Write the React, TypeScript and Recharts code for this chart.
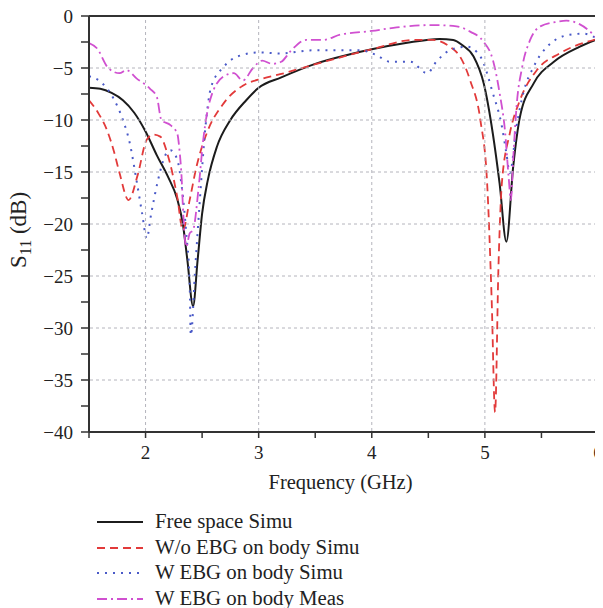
import React from 'react';
import { LineChart, Line, XAxis, YAxis, Legend } from 'recharts';

// S11 curves (frequency in GHz, S11 in dB)
const freeSpaceSimu = [
  { f: 1.5, s: -6.9 }, { f: 1.6, s: -7.0 }, { f: 1.7, s: -7.4 }, { f: 1.8, s: -8.1 },
  { f: 1.9, s: -9.3 }, { f: 2.0, s: -11.1 }, { f: 2.1, s: -13.4 }, { f: 2.2, s: -15.5 },
  { f: 2.28, s: -17.6 }, { f: 2.33, s: -20.0 }, { f: 2.37, s: -23.5 }, { f: 2.42, s: -27.9 },
  { f: 2.46, s: -23.5 }, { f: 2.5, s: -19.0 }, { f: 2.55, s: -15.8 }, { f: 2.63, s: -12.6 },
  { f: 2.75, s: -10.0 }, { f: 2.89, s: -8.1 }, { f: 3.0, s: -6.9 }, { f: 3.2, s: -5.9 },
  { f: 3.5, s: -4.6 }, { f: 3.8, s: -3.7 }, { f: 4.0, s: -3.2 }, { f: 4.3, s: -2.6 },
  { f: 4.6, s: -2.2 }, { f: 4.72, s: -2.3 }, { f: 4.8, s: -2.8 }, { f: 4.9, s: -3.9 },
  { f: 4.99, s: -6.5 }, { f: 5.07, s: -11.3 }, { f: 5.13, s: -16.1 }, { f: 5.19, s: -21.7 },
  { f: 5.25, s: -14.5 }, { f: 5.31, s: -9.7 }, { f: 5.43, s: -6.5 }, { f: 5.61, s: -4.4 },
  { f: 5.84, s: -2.95 }, { f: 6.0, s: -2.2 },
];

const woEbgSimu = [
  { f: 1.5, s: -8.1 }, { f: 1.58, s: -9.3 }, { f: 1.66, s: -11.0 }, { f: 1.72, s: -13.0 },
  { f: 1.77, s: -15.1 }, { f: 1.85, s: -17.7 }, { f: 1.93, s: -15.3 }, { f: 2.01, s: -11.9 },
  { f: 2.07, s: -11.4 }, { f: 2.13, s: -11.6 }, { f: 2.2, s: -13.5 }, { f: 2.28, s: -17.4 },
  { f: 2.33, s: -20.6 }, { f: 2.39, s: -17.7 }, { f: 2.45, s: -14.5 }, { f: 2.54, s: -11.3 },
  { f: 2.69, s: -8.4 }, { f: 2.86, s: -6.7 }, { f: 3.04, s: -6.0 }, { f: 3.19, s: -5.6 },
  { f: 3.48, s: -4.7 }, { f: 4.0, s: -3.2 }, { f: 4.37, s: -2.3 }, { f: 4.54, s: -2.3 },
  { f: 4.69, s: -2.95 }, { f: 4.78, s: -3.9 }, { f: 4.87, s: -6.2 }, { f: 4.96, s: -10.0 },
  { f: 5.02, s: -16.1 }, { f: 5.06, s: -27.3 }, { f: 5.09, s: -38.1 }, { f: 5.12, s: -24.1 },
  { f: 5.15, s: -16.1 }, { f: 5.22, s: -11.3 }, { f: 5.31, s: -8.1 }, { f: 5.46, s: -5.2 },
  { f: 5.66, s: -3.6 }, { f: 6.0, s: -2.2 },
];

const wEbgSimu = [
  { f: 1.5, s: -5.8 }, { f: 1.6, s: -6.3 }, { f: 1.715, s: -7.9 }, { f: 1.8, s: -10.0 },
  { f: 1.86, s: -12.2 }, { f: 1.92, s: -15.8 }, { f: 1.97, s: -19.0 }, { f: 2.01, s: -21.4 },
  { f: 2.05, s: -19.0 }, { f: 2.11, s: -15.8 }, { f: 2.17, s: -13.5 }, { f: 2.22, s: -12.9 },
  { f: 2.28, s: -13.8 }, { f: 2.32, s: -16.4 }, { f: 2.36, s: -20.9 }, { f: 2.39, s: -25.7 },
  { f: 2.4, s: -30.7 }, { f: 2.44, s: -24.1 }, { f: 2.48, s: -17.7 }, { f: 2.53, s: -10.6 },
  { f: 2.58, s: -6.8 }, { f: 2.69, s: -4.9 }, { f: 2.81, s: -3.9 }, { f: 3.01, s: -3.5 },
  { f: 3.19, s: -3.6 }, { f: 3.48, s: -3.3 }, { f: 3.9, s: -3.3 }, { f: 4.04, s: -3.75 },
  { f: 4.16, s: -4.4 }, { f: 4.34, s: -4.4 }, { f: 4.49, s: -5.5 }, { f: 4.57, s: -4.4 },
  { f: 4.69, s: -3.3 }, { f: 4.84, s: -2.95 }, { f: 4.96, s: -3.9 }, { f: 5.07, s: -7.4 },
  { f: 5.15, s: -10.6 }, { f: 5.19, s: -13.2 }, { f: 5.22, s: -15.1 }, { f: 5.28, s: -10.6 },
  { f: 5.34, s: -7.4 }, { f: 5.43, s: -4.9 }, { f: 5.55, s: -2.95 }, { f: 5.75, s: -1.8 },
  { f: 5.87, s: -1.7 }, { f: 6.0, s: -2.2 },
];

const wEbgMeas = [
  { f: 1.5, s: -2.6 }, { f: 1.57, s: -3.1 }, { f: 1.67, s: -5.0 }, { f: 1.77, s: -5.5 },
  { f: 1.83, s: -5.2 }, { f: 1.92, s: -6.0 }, { f: 2.04, s: -7.0 }, { f: 2.1, s: -7.8 },
  { f: 2.14, s: -10.0 }, { f: 2.22, s: -10.5 }, { f: 2.28, s: -11.3 }, { f: 2.3, s: -12.9 },
  { f: 2.32, s: -15.8 }, { f: 2.33, s: -18.3 }, { f: 2.36, s: -22.2 }, { f: 2.39, s: -20.9 },
  { f: 2.42, s: -20.6 }, { f: 2.47, s: -16.4 }, { f: 2.51, s: -11.9 }, { f: 2.57, s: -8.1 },
  { f: 2.69, s: -5.8 }, { f: 2.78, s: -5.5 }, { f: 2.86, s: -6.2 }, { f: 2.95, s: -5.0 },
  { f: 3.03, s: -4.3 }, { f: 3.12, s: -4.6 }, { f: 3.2, s: -4.4 }, { f: 3.28, s: -3.4 },
  { f: 3.42, s: -2.3 }, { f: 3.57, s: -2.3 }, { f: 3.72, s: -1.8 }, { f: 4.0, s: -1.44 },
  { f: 4.22, s: -1.1 }, { f: 4.54, s: -0.87 }, { f: 4.75, s: -1.0 }, { f: 4.87, s: -1.5 },
  { f: 4.99, s: -2.5 }, { f: 5.07, s: -4.2 }, { f: 5.13, s: -7.4 }, { f: 5.18, s: -11.3 },
  { f: 5.21, s: -15.5 }, { f: 5.23, s: -17.7 }, { f: 5.25, s: -13.8 }, { f: 5.28, s: -8.7 },
  { f: 5.33, s: -4.9 }, { f: 5.4, s: -2.3 }, { f: 5.49, s: -1.0 }, { f: 5.64, s: -0.55 },
  { f: 5.72, s: -0.45 }, { f: 5.84, s: -0.8 }, { f: 6.0, s: -2.2 },
];

const xTicks = [1.5, 2, 2.5, 3, 3.5, 4, 4.5, 5, 5.5, 6];
const yTicks = [-40, -37.5, -35, -32.5, -30, -27.5, -25, -22.5, -20, -17.5, -15, -12.5, -10, -7.5, -5, -2.5, 0];

const series = [
  { name: 'Free space Simu', data: freeSpaceSimu, color: '#1c1c1c', dash: undefined, width: 2 },
  { name: 'W/o EBG on body Simu', data: woEbgSimu, color: '#e23a3a', dash: '8 5', width: 1.8 },
  { name: 'W EBG on body Simu', data: wEbgSimu, color: '#4a5ac8', dash: '2 6', width: 2 },
  { name: 'W EBG on body Meas', data: wEbgMeas, color: '#d050d0', dash: '10 4 2 4', width: 1.8 },
];

const FONT = '"Liberation Serif", "DejaVu Serif", serif';
const AXIS = '#333';
const GRID = '#b4b4bc';

// chart layout
const W = 595;
const H = 600;
const MARGIN = { top: 8, right: 5, left: 11, bottom: 0 };
const Y_AXIS_W = 70;
const X_AXIS_H = 60;
const LEGEND_H = 116;
const PLOT_TOP = MARGIN.top;
const PLOT_BOTTOM = H - MARGIN.bottom - X_AXIS_H - LEGEND_H;
const PLOT_LEFT = MARGIN.left + Y_AXIS_W;
const PLOT_RIGHT = W - MARGIN.right;

// x ticks: label on whole GHz, dashed grid line up the plot, frame on the right edge
const XTick = ({ x, y, payload }: any) => {
  const v = payload.value;
  const major = Number.isInteger(v);
  return (
    <g>
      {major && v < 6 && (
        <line x1={x} x2={x} y1={PLOT_BOTTOM - 1} y2={PLOT_TOP} stroke={GRID} strokeDasharray="3 3" />
      )}
      {v === 6 && <line x1={x} x2={x} y1={PLOT_BOTTOM} y2={PLOT_TOP} stroke={AXIS} strokeWidth={2} />}
      {major && (
        <text x={x} y={y} dy="0.71em" textAnchor="middle" fontFamily={FONT} fontSize={19} fill="#222">
          {v}
        </text>
      )}
    </g>
  );
};

// y ticks: label every 5 dB, dashed grid line across, frame on the top edge
const YTick = ({ x, y, payload }: any) => {
  const v = payload.value;
  const major = v % 5 === 0;
  return (
    <g>
      {major && v > -40 && v < 0 && (
        <line x1={PLOT_LEFT + 1} x2={PLOT_RIGHT} y1={y} y2={y} stroke={GRID} strokeDasharray="3 3" />
      )}
      {v === 0 && <line x1={PLOT_LEFT} x2={PLOT_RIGHT} y1={y} y2={y} stroke={AXIS} strokeWidth={2} />}
      {major && (
        <text x={x} y={y} dy="0.355em" textAnchor="end" fontFamily={FONT} fontSize={19} fill="#222">
          {v < 0 ? `\u2212${Math.abs(v)}` : '0'}
        </text>
      )}
    </g>
  );
};

// legend line samples drawn with css gradients following each series' dash pattern
const sampleBg = (color: string, dash?: string) => {
  if (!dash) return color;
  let pos = 0;
  const stops: string[] = [];
  dash.split(' ').map(Number).forEach((len, i) => {
    const c = i % 2 === 0 ? color : 'transparent';
    stops.push(`${c} ${pos}px ${pos + len}px`);
    pos += len;
  });
  return `repeating-linear-gradient(to right, ${stops.join(', ')})`;
};

const XLabel = ({ viewBox }: any) => (
  <text x={viewBox.x + viewBox.width / 2 - 3} y={viewBox.y + 57} textAnchor="middle"
    fontFamily={FONT} fontSize={20.5} fill="#222">
    Frequency (GHz)
  </text>
);

const YLabel = () => {
  const x = 18;
  const y = 222;
  return (
    <text x={x} y={y} transform={`rotate(-90, ${x}, ${y})`} textAnchor="middle"
      fontFamily={FONT} fontSize={23} fill="#222">
      S<tspan fontSize={16} dy={5}>11</tspan><tspan dy={-5}> (dB)</tspan>
    </text>
  );
};

const renderLegend = () => (
  <div style={{ position: 'relative', width: 330, height: LEGEND_H }}>
    {series.map((s, i) => {
      const y = 14.3 + i * 25.5;
      return (
        <div key={s.name} style={{ position: 'absolute', left: 0, top: y - 12.75, width: 330, height: 25.5 }}>
          <div style={{ position: 'absolute', left: 8.7, top: 12.75 - s.width / 2, width: 46, height: s.width,
            background: sampleBg(s.color, s.dash) }} />
          <div style={{ position: 'absolute', left: 67, top: -1.5, lineHeight: '25.5px', fontSize: 20.8,
            fontFamily: FONT, color: '#222', whiteSpace: 'nowrap' }}>{s.name}</div>
        </div>
      );
    })}
  </div>
);

export default function App() {
  return (
    <LineChart width={W} height={H} margin={MARGIN}>
      <XAxis
        type="number" dataKey="f" domain={[1.5, 6]} ticks={xTicks} allowDataOverflow
        height={X_AXIS_H} tickSize={6} tickMargin={8} interval={0}
        axisLine={{ stroke: AXIS, strokeWidth: 2 }} tickLine={{ stroke: AXIS, strokeWidth: 1.5 }}
        tick={<XTick />}
        label={<XLabel />}
      />
      <YAxis
        type="number" domain={[-40, 0]} ticks={yTicks} allowDataOverflow interval={0}
        width={Y_AXIS_W} tickSize={8} tickMargin={8}
        axisLine={{ stroke: AXIS, strokeWidth: 2 }} tickLine={{ stroke: AXIS, strokeWidth: 1.5 }}
        tick={<YTick />}
        label={<YLabel />}
      />
      {series.map((s) => (
        <Line key={s.name} name={s.name} data={s.data} dataKey="s" type="monotone"
          stroke={s.color} strokeWidth={s.width} strokeDasharray={s.dash}
          dot={false} activeDot={false} isAnimationActive={false} />
      ))}
      <Legend layout="horizontal" verticalAlign="bottom" align="center"
        wrapperStyle={{ top: 500, left: 80, width: 330, height: LEGEND_H }} content={renderLegend} />
    </LineChart>
  );
}
